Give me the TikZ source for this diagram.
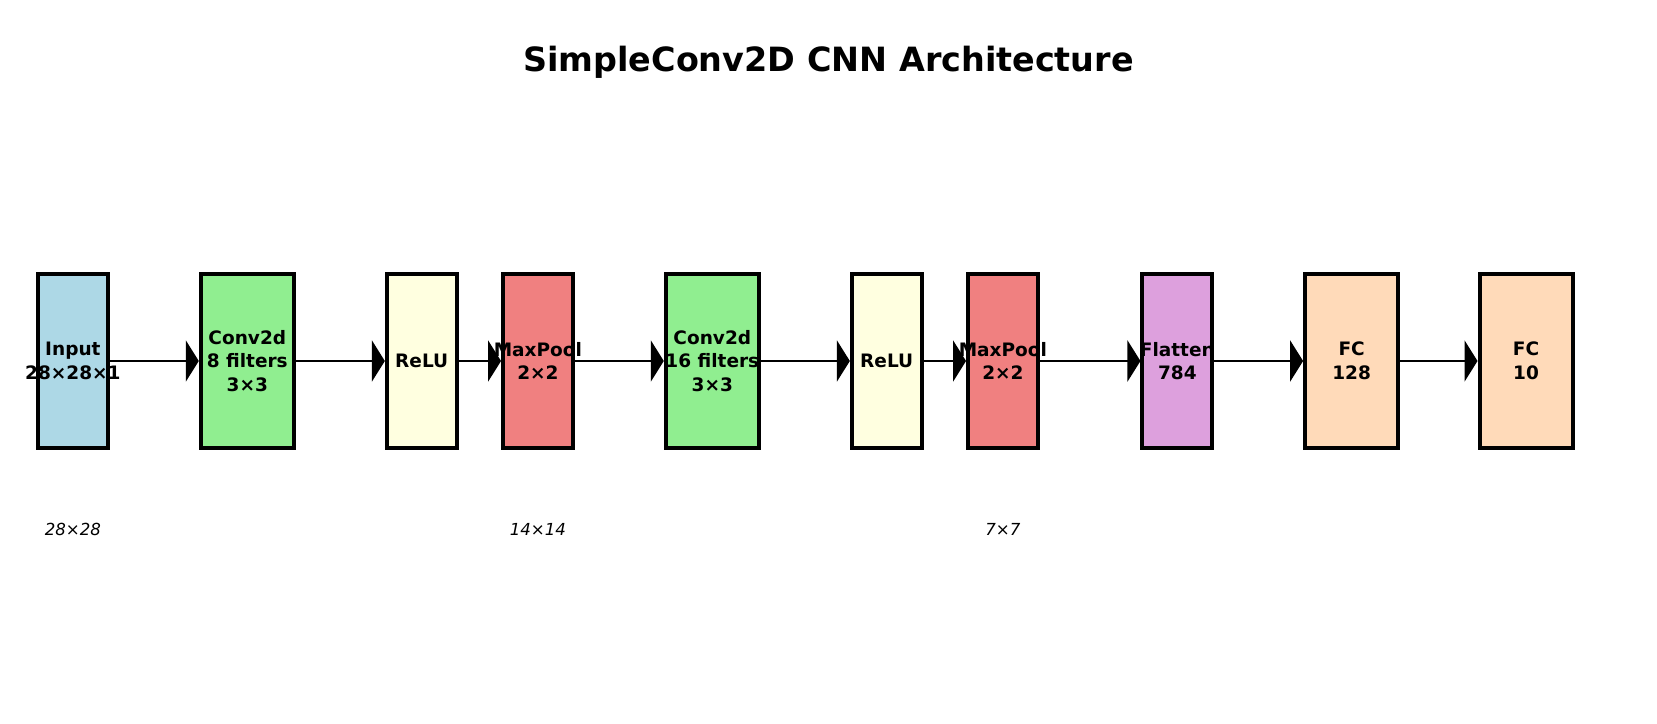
\documentclass[tikz,border=0pt]{standalone}
\usepackage{fontspec}
\setmainfont{DejaVu Sans}
\usetikzlibrary{arrows.meta}
\definecolor{cInput}{HTML}{ADD8E6}
\definecolor{cConv}{HTML}{90EE90}
\definecolor{cRelu}{HTML}{FFFFE0}
\definecolor{cPool}{HTML}{F08080}
\definecolor{cFlat}{HTML}{DDA0DD}
\definecolor{cFC}{HTML}{FFDAB9}
\tikzset{
  layer/.style={draw=black, line width=4pt, inner sep=0pt, minimum height=173.3pt},
  narrow/.style={layer, minimum width=69.7pt},
  wide/.style={layer, minimum width=93pt},
  boxtext/.style={inner sep=0pt, align=center, font=\bfseries\fontsize{18.5}{23.6}\selectfont},
  flow/.style={line width=2.8pt, -{Triangle[length=13pt,width=41pt]}},
  dimlabel/.style={font=\itshape\fontsize{16.6}{20}\selectfont},
  titlestyle/.style={font=\bfseries\fontsize{33.4}{40}\selectfont}
}
\begin{document}
\begin{tikzpicture}[x=1pt,y=-1pt]
\useasboundingbox (0,0) rectangle (1657,723);
\node[titlestyle] (title) at (828.5,62.4) {SimpleConv2D CNN Architecture};
\node[narrow, fill=cInput] (in) at (72.9,361) {};
\node[wide, fill=cConv] (c1) at (247.3,361) {};
\node[narrow, fill=cRelu] (r1) at (421.7,361) {};
\node[narrow, fill=cPool] (p1) at (537.9,361) {};
\node[wide, fill=cConv] (c2) at (712.3,361) {};
\node[narrow, fill=cRelu] (r2) at (886.7,361) {};
\node[narrow, fill=cPool] (p2) at (1002.9,361) {};
\node[narrow, fill=cFlat] (fl) at (1177.3,361) {};
\node[wide, fill=cFC] (f1) at (1351.6,361) {};
\node[wide, fill=cFC] (f2) at (1526,361) {};
\draw[flow] (in.east) -- (c1.west);
\draw[flow] (c1.east) -- (r1.west);
\draw[flow] (r1.east) -- (p1.west);
\draw[flow] (p1.east) -- (c2.west);
\draw[flow] (c2.east) -- (r2.west);
\draw[flow] (r2.east) -- (p2.west);
\draw[flow] (p2.east) -- (fl.west);
\draw[flow] (fl.east) -- (f1.west);
\draw[flow] (f1.east) -- (f2.west);
\node[boxtext] (in-t) at (in) {Input\\28×28×1};
\node[boxtext] (c1-t) at (c1) {Conv2d\\8 filters\\3×3};
\node[boxtext] (r1-t) at (r1) {ReLU};
\node[boxtext] (p1-t) at (p1) {MaxPool\\2×2};
\node[boxtext] (c2-t) at (c2) {Conv2d\\16 filters\\3×3};
\node[boxtext] (r2-t) at (r2) {ReLU};
\node[boxtext] (p2-t) at (p2) {MaxPool\\2×2};
\node[boxtext] (fl-t) at (fl) {Flatten\\784};
\node[boxtext] (f1-t) at (f1) {FC\\128};
\node[boxtext] (f2-t) at (f2) {FC\\10};
\node[dimlabel] (d1) at (72.9,529.5) {28×28};
\node[dimlabel] (d2) at (537.9,529.5) {14×14};
\node[dimlabel] (d3) at (1002.9,529.5) {7×7};
\end{tikzpicture}
\end{document}
